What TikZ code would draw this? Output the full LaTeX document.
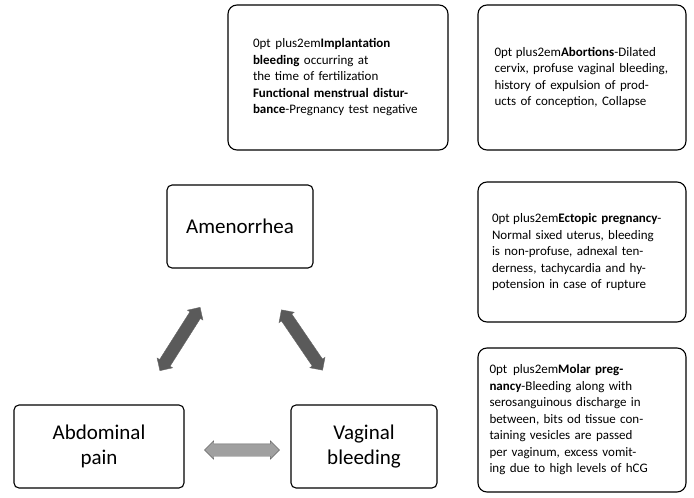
\documentclass[tikz,border=0pt]{standalone}
\usepackage{fontspec}
\setmainfont{Carlito}
\usetikzlibrary{shapes.arrows}
\definecolor{darkarr}{HTML}{5A5A5A}
\definecolor{lightarr}{HTML}{A0A0A0}
\begin{document}
\begin{tikzpicture}[x=1pt,y=-1pt,
  box/.style={draw,line width=1.1pt,rounded corners=9pt,align=center,font=\fontsize{13}{16.5}\selectfont\hyphenpenalty=10000\exhyphenpenalty=10000},
  big/.style={draw,line width=1.1pt,rounded corners=5pt,align=center,font=\fontsize{21}{25}\selectfont},
  darr/.style={double arrow,draw=black!60,fill=#1,inner xsep=0pt,inner ysep=6pt,double arrow head extend=3pt}]
\useasboundingbox (0,0) rectangle (694,498);
\node[box,minimum width=220,minimum height=145,text width=170] (imp) at (338,77.5) {\textbf{Implantation bleeding} occurring at the time of fertilization\\\textbf{Functional menstrual disturbance}-Pregnancy test negative};
\node[box,minimum width=208,minimum height=145,text width=175] (abo) at (582,77.5) {\textbf{Abortions}-Dilated cervix, profuse vaginal bleeding, history of expulsion of products of conception, Collapse};
\node[box,minimum width=208,minimum height=140,text width=180] (ect) at (582,252) {\textbf{Ectopic pregnancy}-Normal sixed uterus, bleeding is non-profuse, adnexal tenderness, tachycardia and hypotension in case of rupture};
\node[box,minimum width=208,minimum height=144,text width=185] (mol) at (582,420) {\textbf{Molar pregnancy}-Bleeding along with serosanguinous discharge in between, bits od tissue containing vesicles are passed per vaginum, excess vomiting due to high levels of hCG};
\node[big,minimum width=146,minimum height=83] (ame) at (240,226.5) {Amenorrhea};
\node[big,minimum width=170,minimum height=83] (abd) at (99,446.5) {Abdominal\\pain};
\node[big,minimum width=146,minimum height=83] (vag) at (364,446.5) {Vaginal\\bleeding};
\node[darr=darkarr,minimum height=75,rotate=57.6] (a1) at (180,339) {};
\node[darr=darkarr,minimum height=73,rotate=-55.7] (a2) at (302,340) {};
\node[darr=lightarr,minimum height=75] (a3) at (242,450) {};
\end{tikzpicture}
\end{document}
